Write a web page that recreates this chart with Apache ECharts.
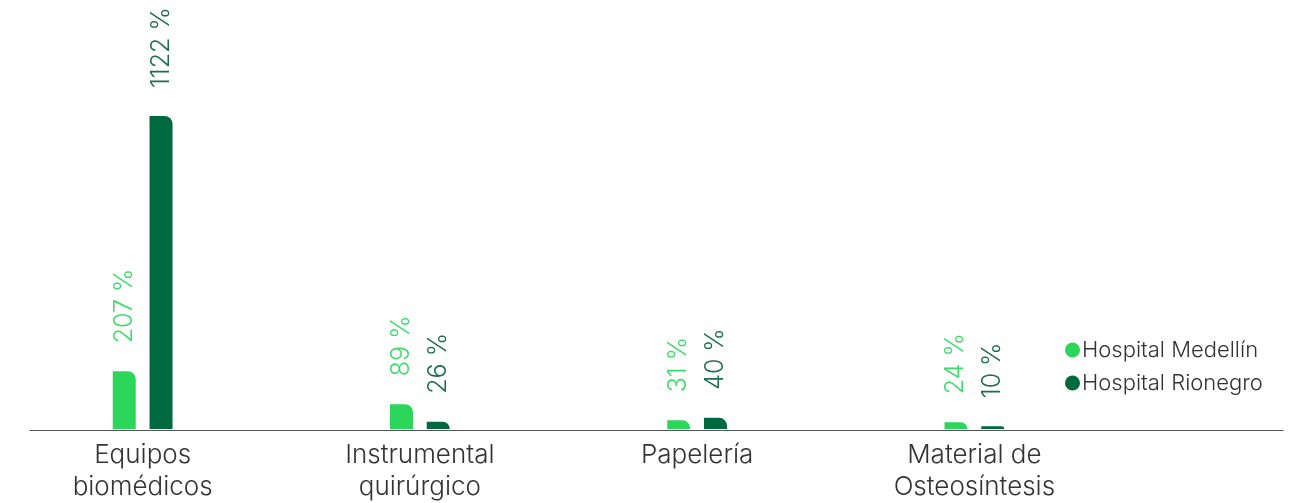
<!DOCTYPE html>
<html>
<head>
<meta charset="utf-8">
<script src="https://cdn.jsdelivr.net/npm/echarts@6/dist/echarts.min.js"></script>
<style>html,body{margin:0;padding:0;background:#fff;}#c{width:1300px;height:503px;}</style>
</head>
<body>
<div id="c"></div>
<script>
const categories = ['Equipos\nbiomédicos', 'Instrumental\nquirúrgico', 'Papelería', 'Material de\nOsteosíntesis'];
const seriesNames = ['Hospital Medellín', 'Hospital Rionegro'];
const medellin = [207, 89, 31, 24];
const rionegro = [1122, 26, 40, 10];

const lightGreen = '#2bd65a';
const darkGreen = '#006940';
const FONT = 'Inter';

const chart = echarts.init(document.getElementById('c'));
function labelCfg(color) {
  return {
    show: true, position: 'top', rotate: 90, align: 'left', verticalAlign: 'middle',
    distance: 28, color: color, fontFamily: FONT, fontWeight: 300, fontSize: 25,
    formatter: p => p.value + ' %'
  };
}
chart.setOption({
  backgroundColor: '#fff',
  animation: false,
  legend: {
    orient: 'vertical', left: 1060, top: 334, itemWidth: 15, itemHeight: 15, itemGap: 11,
    icon: 'circle',
    textStyle: { fontFamily: FONT, fontWeight: 300, fontSize: 22, color: '#333', padding: [0, 0, 0, -3] },
    data: seriesNames
  },
  grid: [
    { left: 4, width: 1109, top: 116, bottom: 73 },
    { left: 30, right: 17, top: 116, bottom: 73 }
  ],
  xAxis: [
    {
      type: 'category', gridIndex: 0, data: categories,
      axisLine: { show: false }, axisTick: { show: false },
      axisLabel: { color: '#333', fontFamily: FONT, fontWeight: 300, fontSize: 26, lineHeight: 32, margin: 10 }
    },
    {
      type: 'value', gridIndex: 1, min: 0, max: 1,
      axisLine: { show: true, lineStyle: { color: '#555', width: 1.2 } },
      axisTick: { show: false }, axisLabel: { show: false }, splitLine: { show: false }
    }
  ],
  yAxis: [
    { type: 'value', gridIndex: 0, min: 0, max: 1122, show: false, splitLine: { show: false } },
    { type: 'value', gridIndex: 1, show: false, splitLine: { show: false } }
  ],
  series: [
    {
      name: seriesNames[0], type: 'bar', data: medellin, barWidth: 23, barGap: '60%',
      itemStyle: { color: lightGreen, borderRadius: [0, 8, 0, 0] },
      label: labelCfg('#3fdc6c')
    },
    {
      name: seriesNames[1], type: 'bar', data: rionegro, barWidth: 23, barGap: '60%',
      itemStyle: { color: darkGreen, borderRadius: [0, 8, 0, 0] },
      label: labelCfg('#1b6f4b')
    }
  ]
});
</script>
</body>
</html>
